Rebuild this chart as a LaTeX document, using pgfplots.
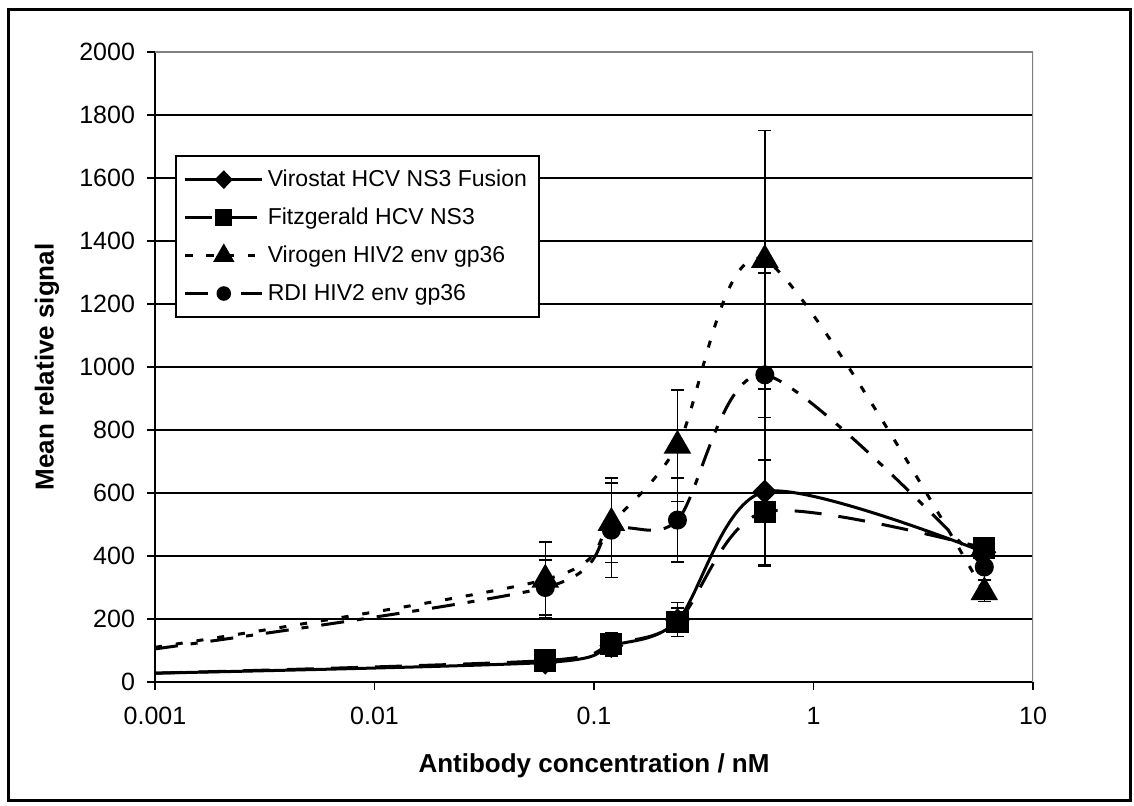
\documentclass[border=0pt]{standalone}
\usepackage{pgfplots}
\pgfplotsset{compat=1.18}
\usepackage{pgfplotstable}
\usepackage{fontspec}
\setmainfont{Liberation Sans}

\pgfplotstableread{
x     y    ep   em
0.001 28   0    0
0.06  62   15   15
0.12  115  35   35
0.24  195  58   50
0.6   604  235  233
6     412  20   20
}\virostat

\pgfplotstableread{
x     y    ep   em
0.001 28   0    0
0.06  68   12   12
0.12  120  35   35
0.24  190  45   45
0.6   540  165  172
6     425  15   15
}\fitzgerald

\pgfplotstableread{
x     y    ep   em
0.001 110  0    0
0.06  325  120  120
0.12  505  142  125
0.24  750  177  177
0.6   1340 410  410
6     285  39   30
}\virogen

\pgfplotstableread{
x     y    ep   em
0.001 105  0    0
0.06  300  87   87
0.12  482  150  150
0.24  514  133  133
0.6   975  323  270
6     365  40   40
}\rdi

\begin{document}
\begin{tikzpicture}
\useasboundingbox (-77.5pt,-62pt) rectangle (489.5pt,341pt);
\draw[line width=1.5pt] (-73.2pt,-59.5pt) rectangle (487.5pt,336.3pt);
\begin{axis}[
  at={(0,0)}, anchor=south west,
  scale only axis, width=439pt, height=315pt,
  xmode=log, xmin=0.001, xmax=10, ymin=0, ymax=2000,
  axis x line*=bottom, axis y line*=left,
  axis line style={-, black, line width=0.8pt},
  xtick={0.001,0.01,0.1,1,10},
  xticklabels={0.001,0.01,0.1,1,10},
  xminorticks=false,
  ytick={0,200,...,2000},
  tick align=outside,
  major tick length=4pt,
  tick style={black, line width=0.8pt},
  ymajorgrids,
  major grid style={black, line width=0.7pt},
  /pgf/number format/1000 sep={},
  /pgf/number format/assume math mode=true,
  tick label style={font=\fontsize{12.5}{15}\selectfont},
  yticklabel style={xshift=-2.5pt},
  xticklabel style={yshift=-5pt},
  xlabel={\textbf{Antibody concentration / nM}},
  ylabel={\textbf{Mean relative signal}},
  label style={font=\fontsize{13}{15}\selectfont},
  xlabel style={at={(axis description cs:0.5,-0.1333)}, anchor=center},
  ylabel style={at={(axis description cs:-0.123,0.5)}, anchor=center},
  legend style={at={(axis description cs:0.0228,0.8365)}, anchor=north west,
    draw=black, line width=0.8pt, fill=white,
    font=\fontsize{11.5}{14}\selectfont,
    row sep=5.2pt, inner xsep=4pt, inner ysep=5pt,
    cells={anchor=west}},
  legend image code/.code={\draw[#1, mark repeat=2, mark phase=2, every mark/.append style={scale=0.72}] plot coordinates {(0pt,0pt) (19.25pt,0pt) (38.5pt,0pt)};},
  every axis plot/.append style={line width=1.5pt, black},
  error bars/error bar style={line width=0.7pt, solid, black},
  error bars/error mark options={rotate=90, mark size=3.25pt, line width=0.7pt, solid, black},
]
% Virostat
\addplot[smooth, solid, mark=diamond*, mark phase=2, mark size=5pt,
  mark options={solid, xscale=1.33, fill=black}] table[x=x, y=y] {\virostat};
\addlegendentry{Virostat HCV NS3 Fusion}
% Fitzgerald
\addplot[smooth, dash pattern=on 13.5pt off 8.5pt, mark=square*, mark phase=2, mark size=4.8pt,
  mark options={solid, fill=black}] table[x=x, y=y] {\fitzgerald};
\addlegendentry{Fitzgerald HCV NS3}
% Virogen
\addplot[smooth, dash pattern=on 3.5pt off 7pt, mark=triangle*, mark phase=2, mark size=6.5pt,
  mark options={solid, fill=black}] table[x=x, y=y] {\virogen};
\addlegendentry{Virogen HIV2 env gp36}
% RDI
\addplot[smooth, dash pattern=on 11.5pt off 6.5pt on 3.5pt off 6.5pt, mark=*, mark phase=2, mark size=4pt,
  mark options={solid, fill=black}] table[x=x, y=y] {\rdi};
\addlegendentry{RDI HIV2 env gp36}

% error bars
\addplot[forget plot, only marks, mark=none, skip coords between index={0}{1},
  error bars/.cd, y dir=both, y explicit]
  table[x=x, y=y, y error plus=ep, y error minus=em] {\virostat};
\addplot[forget plot, only marks, mark=none, skip coords between index={0}{1},
  error bars/.cd, y dir=both, y explicit]
  table[x=x, y=y, y error plus=ep, y error minus=em] {\fitzgerald};
\addplot[forget plot, only marks, mark=none, skip coords between index={0}{1},
  error bars/.cd, y dir=both, y explicit]
  table[x=x, y=y, y error plus=ep, y error minus=em] {\virogen};
\addplot[forget plot, only marks, mark=none, skip coords between index={0}{1},
  error bars/.cd, y dir=both, y explicit]
  table[x=x, y=y, y error plus=ep, y error minus=em] {\rdi};

\draw[gray, line width=1pt] (rel axis cs:0,1) -- (rel axis cs:1,1) -- (rel axis cs:1,0);
\end{axis}
\end{tikzpicture}
\end{document}
